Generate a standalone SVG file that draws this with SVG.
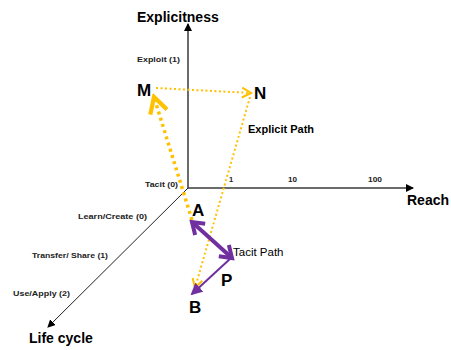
<svg xmlns="http://www.w3.org/2000/svg" width="451" height="350" viewBox="0 0 451 350">
<style>
.ax{fill:none;stroke:#3a3a3a;stroke-width:1.5}
.lbl{font-family:"Liberation Sans",Arial,sans-serif;font-weight:bold;fill:#000}
.axl{font-size:14px}
.sm{font-size:7.5px;fill:#222}
.pt{font-size:17px}
.path{font-size:11px}
.o1{fill:none;stroke:#FFC000;stroke-width:3.5;stroke-dasharray:3 3.5}
.o2{fill:none;stroke:#FFC000;stroke-width:2;stroke-dasharray:2 2.5}
.p1{fill:none;stroke:#7030A0;stroke-width:4}
.p2{fill:none;stroke:#7030A0;stroke-width:2}
</style>
<defs>
<marker id="ah" markerWidth="8" markerHeight="8" refX="7" refY="4" orient="auto" markerUnits="userSpaceOnUse">
<path d="M0,0 L8,4 L0,8 Z" fill="#000"/>
</marker>
<marker id="oc" markerWidth="6" markerHeight="6" refX="5" refY="3" orient="auto" markerUnits="strokeWidth">
<path d="M0.5,0.5 L5,3 L0.5,5.5" fill="none" stroke="#FFC000" stroke-width="1.2"/>
</marker>
<marker id="ocs" markerWidth="6" markerHeight="6" refX="5" refY="3" orient="auto" markerUnits="strokeWidth">
<path d="M0.5,0.5 L5,3 L0.5,5.5" fill="none" stroke="#FFC000" stroke-width="1"/>
</marker>
<marker id="pe" markerWidth="20" markerHeight="20" refX="16" refY="10" orient="auto" markerUnits="userSpaceOnUse">
<path d="M5,2.5 L16,10 L5,17.5" fill="none" stroke="#7030A0" stroke-width="4" stroke-linejoin="miter"/>
</marker>
<marker id="ps" markerWidth="20" markerHeight="20" refX="4" refY="10" orient="auto" markerUnits="userSpaceOnUse">
<path d="M15,2.5 L4,10 L15,17.5" fill="none" stroke="#7030A0" stroke-width="4" stroke-linejoin="miter"/>
</marker>
<marker id="pb" markerWidth="6" markerHeight="6" refX="5" refY="3" orient="auto" markerUnits="strokeWidth">
<path d="M0,0 L6,3 L0,6 Z" fill="#7030A0"/>
</marker>
</defs>
<g id="axes">
<line class="ax" x1="188" y1="188" x2="188" y2="24" marker-end="url(#ah)"/>
<line class="ax" x1="188" y1="188" x2="413" y2="188" marker-end="url(#ah)"/>
<line x1="188" y1="188" x2="48" y2="327" stroke="#222" stroke-width="1" marker-end="url(#ah)"/>
</g>
<g id="labels">
<text class="lbl axl" x="137" y="22">Explicitness</text>
<text class="lbl axl" x="407" y="205">Reach</text>
<text class="lbl axl" x="29" y="343">Life cycle</text>
<text class="lbl sm" x="137" y="62" textLength="43" lengthAdjust="spacingAndGlyphs">Exploit (1)</text>
<text class="lbl sm" x="145" y="187" textLength="33" lengthAdjust="spacingAndGlyphs">Tacit  (0)</text>
<text class="lbl sm" x="78" y="219" textLength="69" lengthAdjust="spacingAndGlyphs">Learn/Create  (0)</text>
<text class="lbl sm" x="32" y="258" textLength="76" lengthAdjust="spacingAndGlyphs">Transfer/ Share   (1)</text>
<text class="lbl sm" x="13" y="296" textLength="57" lengthAdjust="spacingAndGlyphs">Use/Apply   (2)</text>
<text class="lbl sm" x="229" y="182">1</text>
<text class="lbl sm" x="288" y="182" textLength="9" lengthAdjust="spacingAndGlyphs">10</text>
<text class="lbl sm" x="368" y="182" textLength="14" lengthAdjust="spacingAndGlyphs">100</text>
</g>
<g id="connectors">
<line class="o1" x1="192" y1="220" x2="154" y2="97" marker-end="url(#oc)"/>
<line class="o2" x1="156" y1="88" x2="251" y2="93" marker-end="url(#ocs)"/>
<line class="o2" x1="250" y1="97" x2="195" y2="288" marker-end="url(#ocs)"/>
<line class="p1" x1="192" y1="222" x2="232" y2="258" marker-start="url(#ps)" marker-end="url(#pe)"/>
<line class="p2" x1="231" y1="258" x2="192" y2="294" marker-end="url(#pb)"/>
</g>
<g id="node-M"><text class="lbl pt" x="137" y="96">M</text></g>
<g id="node-N"><text class="lbl pt" x="254" y="99">N</text></g>
<g id="node-A"><text class="lbl pt" x="192" y="216">A</text></g>
<g id="node-P"><text class="lbl pt" x="221" y="286">P</text></g>
<g id="node-B"><text class="lbl pt" x="189" y="313">B</text></g>
<g id="path-labels">
<text class="lbl path" x="248" y="133">Explicit Path</text>
<text class="lbl path" x="233" y="256" style="font-weight:normal;font-size:11.5px">Tacit Path</text>
</g>
</svg>
